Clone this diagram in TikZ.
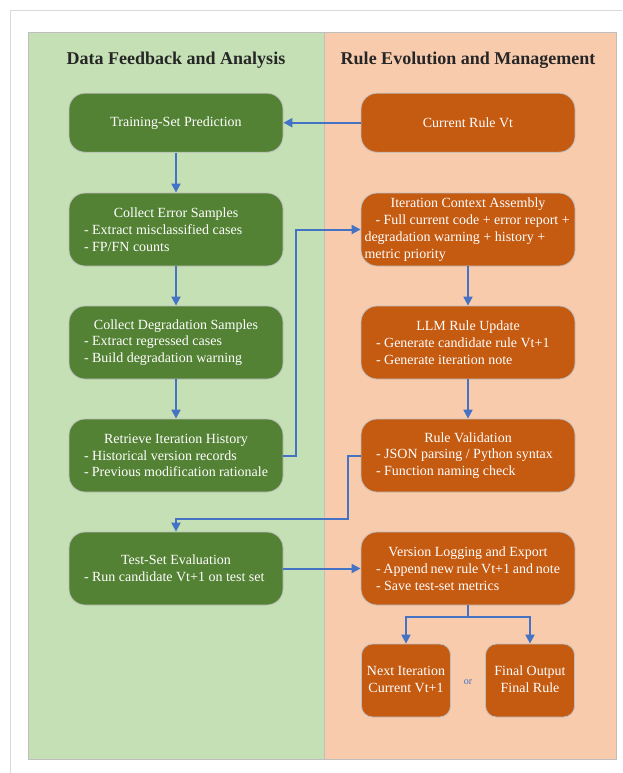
\documentclass[tikz,border=0pt]{standalone}
\usepackage{fontspec}
\setmainfont{Liberation Serif}
\usetikzlibrary{arrows.meta}
\definecolor{lgreen}{HTML}{C5E0B4}
\definecolor{dgreen}{HTML}{548235}
\definecolor{lorange}{HTML}{F8CBAD}
\definecolor{dorange}{HTML}{C55A11}
\definecolor{arrowblue}{HTML}{4472C4}
\definecolor{edgegrey}{HTML}{BFBFBF}
\definecolor{framegrey}{HTML}{D9D9D9}
\newcommand{\boxtxt}[3]{\begin{minipage}{#1}{\centering #2\par}#3\end{minipage}}
\begin{document}
\begin{tikzpicture}[x=1pt,y=-1pt,
  panel/.style={draw=edgegrey,line width=0.8pt},
  gbox/.style={draw=edgegrey,line width=0.8pt,fill=dgreen,rounded corners=16pt,minimum width=214pt,minimum height=73pt,inner sep=0pt,text=white,font=\fontsize{14}{16.8}\selectfont},
  obox/.style={gbox,fill=dorange},
  sbox/.style={obox,rounded corners=11pt,minimum width=89pt},
  ptitle/.style={font=\fontsize{18}{21}\selectfont\bfseries,text=black!85},
  conn/.style={draw=arrowblue,line width=2pt,-{Triangle[length=9pt,width=9pt]}},
  orlabel/.style={text=arrowblue,font=\fontsize{10}{12}\selectfont}]
\useasboundingbox (0,0) rectangle (622,773);
\fill[white] (0,0) rectangle (622,773);
% outer frame
\draw[framegrey,line width=1pt] (10.5,773) -- (10.5,10.5) -- (622,10.5);
% panels
\fill[lgreen] (28,32.5) rectangle (324,759);
\fill[lorange] (324,32.5) rectangle (616,759);
\draw[panel] (28,32.5) rectangle (324,759);
\draw[panel] (324,32.5) rectangle (616,759);
\node[ptitle] (tl) at (176,60) {Data Feedback and Analysis};
\node[ptitle] (tr) at (468,60) {Rule Evolution and Management};
% left column
\node[gbox,minimum height=59pt] (train) at (176,122.7) {Training-Set Prediction};
\node[gbox] (err) at (176,229.5) {\boxtxt{184pt}{Collect Error Samples}{- Extract misclassified cases\\- FP/FN counts}};
\node[gbox] (deg) at (176,342.5) {\boxtxt{184pt}{Collect Degradation Samples}{- Extract regressed cases\\- Build degradation warning}};
\node[gbox] (hist) at (176,455.5) {\boxtxt{184pt}{Retrieve Iteration History}{- Historical version records\\- Previous modification rationale}};
\node[gbox] (test) at (176,568.5) {\boxtxt{184pt}{Test-Set Evaluation}{- Run candidate Vt+1 on test set}};
% right column
\node[obox,minimum height=59pt] (cur) at (468,122.7) {Current Rule Vt};
\node[obox] (ctx) at (468,229.5) {\boxtxt{207pt}{Iteration Context Assembly}{\hspace*{11pt}- Full current code + error report +\\degradation warning + history +\\metric priority}};
\node[obox] (llm) at (468,342.5) {\boxtxt{184pt}{LLM Rule Update}{- Generate candidate rule Vt+1\\- Generate iteration note}};
\node[obox] (val) at (468,455.5) {\boxtxt{184pt}{Rule Validation}{- JSON parsing / Python syntax\\- Function naming check}};
\node[obox] (log) at (468,568.5) {\boxtxt{184pt}{Version Logging and Export}{- Append new rule Vt+1 and note\\- Save test-set metrics}};
\node[sbox] (next) at (406,680.5) {\begin{tabular}{@{}c@{}}Next Iteration\\Current Vt+1\end{tabular}};
\node[sbox] (final) at (530,680.5) {\begin{tabular}{@{}c@{}}Final Output\\Final Rule\end{tabular}};
\node[orlabel] (or) at (468,682) {or};
% connectors
\draw[conn] (cur.west) -- (train.east);
\draw[conn] (train.south) -- (err.north);
\draw[conn] (err.south) -- (deg.north);
\draw[conn] (deg.south) -- (hist.north);
\draw[conn] (hist.east) -- ++(12.5,0) |- (ctx.west);
\draw[conn] (ctx.south) -- (llm.north);
\draw[conn] (llm.south) -- (val.north);
\draw[conn] (val.west) -- ++(-13,0) -- ++(0,63.5) -| (test.north);
\draw[conn] (test.east) -- (log.west);
\coordinate (split) at (468,617);
\draw[draw=arrowblue,line width=2pt] (log.south) -- (split);
\draw[conn] (split) -| (next.north);
\draw[conn] (split) -| (final.north);
\end{tikzpicture}
\end{document}
